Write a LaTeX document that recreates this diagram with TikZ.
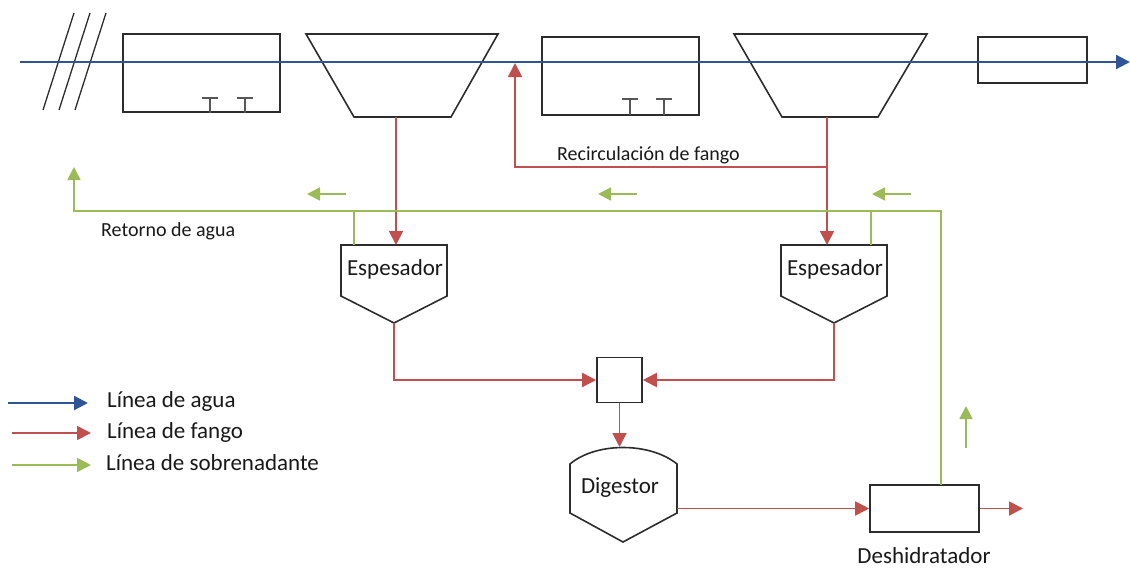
\documentclass[tikz,border=0pt]{standalone}
\usepackage{fontspec}
\setmainfont{Carlito}
\usetikzlibrary{arrows.meta}
\definecolor{waterblue}{RGB}{47,85,151}
\definecolor{sludgered}{RGB}{192,80,77}
\definecolor{supgreen}{RGB}{155,187,89}
\definecolor{edgegray}{RGB}{45,45,45}
\begin{document}
\begin{tikzpicture}[x=1pt,y=-1pt,
  every node/.style={font=\fontsize{20}{24}\selectfont, text=black!90},
  bigtext/.style={font=\fontsize{23}{27}\selectfont},
  unitbox/.style={draw=edgegray, line width=1.6pt, inner sep=0pt},
  unitline/.style={draw=edgegray, line width=1.6pt, line join=miter},
  diffuser/.style={draw=edgegray!80, line width=1.6pt},
  tipbig/.style={-{Triangle[length=14pt,width=14pt]}},
  tipsmall/.style={-{Triangle[length=13pt,width=13pt]}},
  waterln/.style={draw=waterblue, line width=2.2pt},
  sludgeln/.style={draw=sludgered, line width=1.8pt},
  supln/.style={draw=supgreen, line width=1.8pt},
  lbl/.style={anchor=west, inner sep=0pt}]
\useasboundingbox (0,0) rectangle (1130,568);

% --- water line units -------------------------------------------------
\node[unitbox, minimum width=157pt, minimum height=78pt] (aer1) at (201.5,73) {};
\node[unitbox, minimum width=157pt, minimum height=78pt] (aer2) at (620.5,76) {};
\node[unitbox, minimum width=109pt, minimum height=46pt] (filt) at (1032.5,60) {};

% secondary settlers (trapezoids)
\draw[unitline] (306,34) -- (498,34) -- (451,117) -- (354,117) -- cycle;
\draw[unitline] (734,34) -- (927,34) -- (878,117) -- (782,117) -- cycle;
\coordinate (sed1) at (396,117);
\coordinate (sed2) at (827,117);

% screening bars
\foreach \dx in {0,16,32}
  \draw[edgegray, line width=1.3pt] (43+\dx,110) -- (74+\dx,13);

% air diffusers
\foreach \xx in {210,245}
  \draw[diffuser] (\xx-8,98) -- (\xx+8,98) (\xx,98) -- (\xx,113);
\foreach \xx in {630,664}
  \draw[diffuser] (\xx-8,99) -- (\xx+8,99) (\xx,99) -- (\xx,115);

% main water line
\coordinate (win) at (20,62);
\coordinate (wout) at (1130,62);
\draw[waterln, tipbig] (win) -- (wout);

% --- sludge line units --------------------------------------------------
% thickeners
\draw[unitline] (341,245) -- (447,245) -- (447,296) -- (394,323) -- (341,296) -- cycle;
\node[bigtext] (esp1) at (395,269) {Espesador};
\draw[unitline] (781,245) -- (887,245) -- (887,296) -- (834,323) -- (781,296) -- cycle;
\node[bigtext] (esp2) at (835,269) {Espesador};
\coordinate (esp1in) at (396,245);
\coordinate (esp2in) at (827,245);
\coordinate (esp1out) at (394,323);
\coordinate (esp2out) at (834,323);

% mixing chamber
\node[unitbox, minimum width=45pt, minimum height=45pt] (mix) at (619.5,380) {};

% digester
\draw[unitline] (570,464) .. controls (596,442) and (650,442) .. (677,464)
  -- (677,513) -- (623,542) -- (570,513) -- cycle;
\node[bigtext] (dig) at (620,488) {Digestor};
\coordinate (digin) at (619.5,447);
\coordinate (digout) at (677,508.5);

% dewatering
\node[unitbox, minimum width=109pt, minimum height=47pt] (desh) at (924.5,508.5) {};
\node[bigtext] (deshlbl) at (924,556) {Deshidratador};
\coordinate (sludgeout) at (1023,508.5);
\coordinate (deshtop) at (941,485);

% sludge connectors
\draw[sludgeln, tipbig] (sed1) -- (esp1in);
\draw[sludgeln, tipbig] (sed2) -- (esp2in);
\coordinate (recircA) at (827,167);
\coordinate (recircB) at (515,63);
\draw[sludgeln, tipbig] (recircA) -| (recircB);
\node[lbl] (recirclbl) at (557,155) {Recirculación de fango};
\draw[sludgeln, tipbig] (esp1out) |- (mix.west);
\draw[sludgeln, tipbig] (esp2out) |- (mix.east);
\draw[sludgeln, tipbig] (mix.south) -- (digin);
\draw[sludgeln, tipbig] (digout) -- (desh.west);
\draw[sludgeln, tipbig] (desh.east) -- (sludgeout);

% --- supernatant return ---------------------------------------------------
\coordinate (retA) at (941,211);
\coordinate (retB) at (74,211);
\coordinate (retEnd) at (74,167);
\draw[supln, tipsmall] (deshtop) -- (retA) -- (retB) -- (retEnd);
\coordinate (esp1sup) at (354,245);
\coordinate (esp1j) at (354,211);
\coordinate (esp2sup) at (871,245);
\coordinate (esp2j) at (871,211);
\draw[supln] (esp1sup) -- (esp1j);
\draw[supln] (esp2sup) -- (esp2j);
\node[lbl] (retlbl) at (101,231) {Retorno de agua};

% direction marks
\foreach \xa/\xb in {346/307, 637/598, 911/872}{
  \coordinate (da) at (\xa,194);
  \coordinate (db) at (\xb,194);
  \draw[supln, tipsmall] (da) -- (db);
}
\coordinate (ua) at (966,448);
\coordinate (ub) at (966,406);
\draw[supln, tipsmall] (ua) -- (ub);

% --- legend ---------------------------------------------------------------
\coordinate (lwa) at (8,403);   \coordinate (lwb) at (88,403);
\coordinate (lsa) at (12,433);  \coordinate (lsb) at (91,433);
\coordinate (lga) at (12,465);  \coordinate (lgb) at (91,465);
\draw[waterln, tipbig] (lwa) -- (lwb);
\draw[sludgeln, tipbig] (lsa) -- (lsb);
\draw[supln, tipbig] (lga) -- (lgb);
\node[lbl, bigtext] (leg1) at (107,401) {Línea de agua};
\node[lbl, bigtext] (leg2) at (107,432) {Línea de fango};
\node[lbl, bigtext] (leg3) at (106,463) {Línea de sobrenadante};
\end{tikzpicture}
\end{document}
